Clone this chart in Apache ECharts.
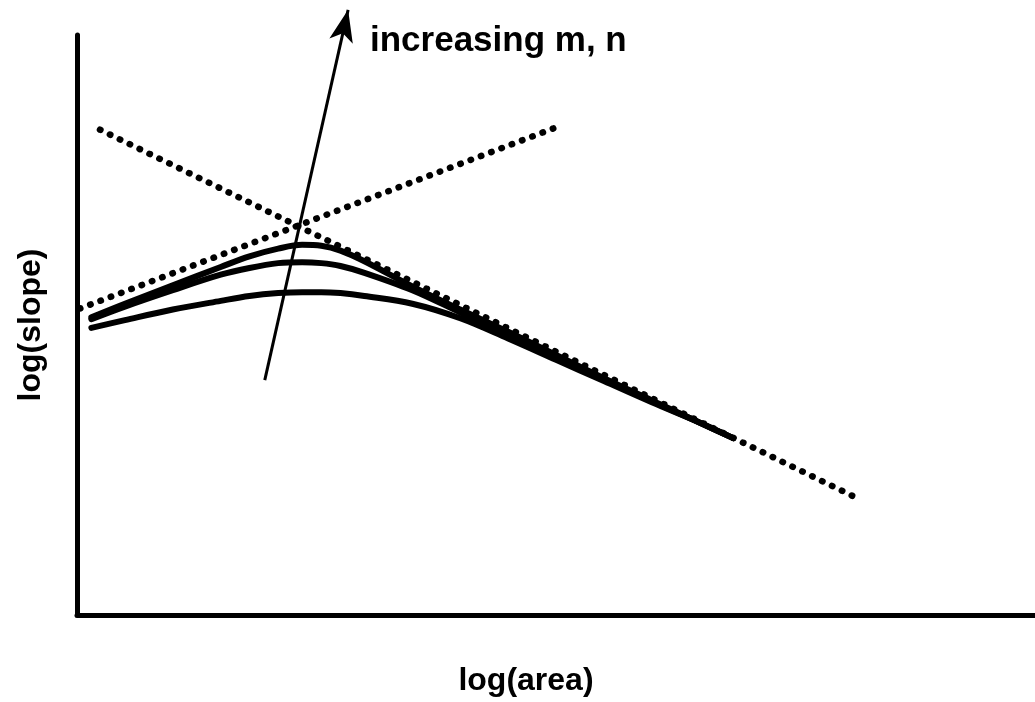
<!DOCTYPE html>
<html>
<head>
<meta charset="utf-8">
<title>log(slope) vs log(area)</title>
<script src="https://cdn.jsdelivr.net/npm/echarts@6/dist/echarts.min.js"></script>
<style>
  html, body { margin: 0; padding: 0; background: #ffffff; }
  #chart { width: 1035px; height: 702px; }
</style>
</head>
<body>
<div id="chart"></div>
<script>
// Sample positions along log(area)
const logArea = [0.15, 0.5, 1, 1.5, 1.8, 2.1, 2.35, 2.55, 2.75, 3, 3.5, 4, 4.5, 5, 5.5, 6, 6.5, 6.85];

// log(slope) profiles, from largest to smallest m, n
const slopeHigh = [3.08, 3.22, 3.41, 3.60, 3.71, 3.79, 3.83, 3.82, 3.77, 3.66, 3.40, 3.16, 2.93, 2.69, 2.45, 2.22, 1.99, 1.83];
const slopeMid  = [3.06, 3.19, 3.36, 3.52, 3.59, 3.64, 3.65, 3.64, 3.61, 3.54, 3.36, 3.13, 2.90, 2.67, 2.44, 2.21, 1.99, 1.83];
const slopeLow  = [2.97, 3.05, 3.16, 3.25, 3.30, 3.33, 3.34, 3.34, 3.33, 3.30, 3.22, 3.07, 2.86, 2.64, 2.42, 2.20, 1.99, 1.83];

// Limiting straight lines (end points): falling branch and rising branch
const fallingLine = [[0.24, 5.02], [8.12, 1.22]];
const risingLine  = [[0.03, 3.17], [4.99, 5.04]];

// Direction arrow for increasing m, n (tail, head)
const arrowPath = [[1.96, 2.43], [2.83, 6.26]];

const axisNames = { x: 'log(area)', y: 'log(slope)' };
const arrowText = 'increasing m, n';

const FONT = '"Liberation Sans", Arial, Helvetica, sans-serif';

function pairs(xs, ys) { return xs.map((x, i) => [x, ys[i]]); }

const curveStyle = { color: '#000', width: 6, cap: 'round', join: 'round' };
const dotStyle = { color: '#000', width: 6.5, type: [0.5, 10.5], cap: 'round' };

const chart = echarts.init(document.getElementById('chart'), null, { renderer: 'canvas' });

chart.setOption({
  backgroundColor: '#ffffff',
  animation: false,
  grid: { left: 77, right: 0, top: 35, bottom: 85 },
  xAxis: {
    type: 'value', min: 0, max: 10,
    name: axisNames.x, nameLocation: 'middle', nameGap: 50,
    nameTextStyle: { fontFamily: FONT, fontWeight: 'bold', fontSize: 32, color: '#000', padding: [0, 60, 0, 0] },
    axisLine: { show: true, lineStyle: { color: '#000', width: 5 } },
    axisTick: { show: false }, axisLabel: { show: false }, splitLine: { show: false }
  },
  yAxis: {
    type: 'value', min: 0, max: 6,
    name: axisNames.y, nameLocation: 'middle', nameGap: 30,
    nameTextStyle: { fontFamily: FONT, fontWeight: 'bold', fontSize: 32, color: '#000' },
    axisLine: { show: true, lineStyle: { color: '#000', width: 5 } },
    axisTick: { show: false }, axisLabel: { show: false }, splitLine: { show: false }
  },
  graphic: [{
    type: 'text', left: 370, top: 24,
    style: { text: arrowText, fill: '#000', font: 'bold 35px ' + FONT }
  }],
  series: [
    { type: 'line', data: fallingLine, symbol: 'none', lineStyle: dotStyle, z: 2 },
    { type: 'line', data: risingLine, symbol: 'none', lineStyle: dotStyle, z: 2 },
    { type: 'line', data: pairs(logArea, slopeHigh), symbol: 'none', smooth: 0.35, lineStyle: curveStyle, z: 3 },
    { type: 'line', data: pairs(logArea, slopeMid), symbol: 'none', smooth: 0.35, lineStyle: curveStyle, z: 3 },
    { type: 'line', data: pairs(logArea, slopeLow), symbol: 'none', smooth: 0.35, lineStyle: curveStyle, z: 3 },
    {
      type: 'lines', coordinateSystem: 'cartesian2d', clip: false, z: 4,
      symbol: ['none', 'arrow'], symbolSize: [1, [18, 32]],
      lineStyle: { color: '#000', width: 3, opacity: 1, curveness: 0 },
      itemStyle: { color: '#000' },
      data: [{ coords: arrowPath }]
    }
  ]
});
</script>
</body>
</html>
